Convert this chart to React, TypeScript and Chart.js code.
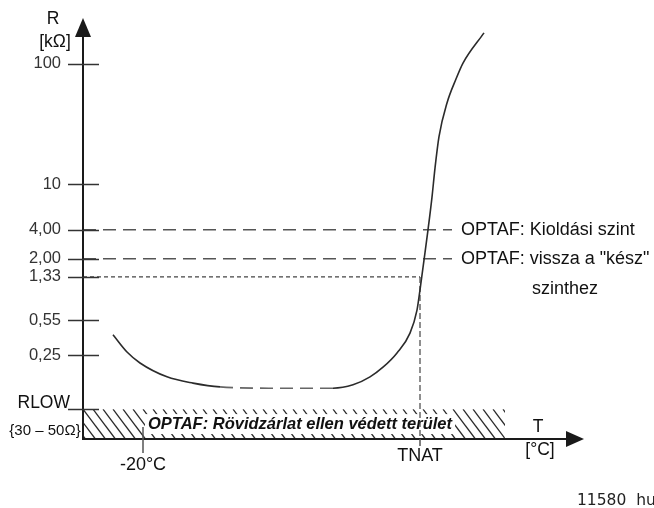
import React, { useEffect, useRef } from "react";
import { Chart, registerables } from "chart.js";

Chart.register(...registerables);

const FONT = "'Liberation Sans', Arial, Helvetica, sans-serif";

// Schematic position units: x = temperature position, y = resistance position
const X_MIN = 0;
const X_MAX = 100;
const Y_MIN = 0;
const Y_MAX = 100;

const Y_TICK_POS = [7.1, 20, 28.3, 38.6, 42.9, 49.8, 60.7, 89.3];
const Y_TICK_LABELS = ["", "0,25", "0,55", "1,33", "2,00", "4,00", "10", "100"];

const CURVE_X = [6.0, 8.8, 11.4, 16.8, 22.0, 27.4, 38.6, 50.0, 54.0, 57.4, 60.0, 62.8, 65.4, 66.8, 67.4, 68.2, 69.0, 69.8, 70.4, 71.2, 72.8, 74.6, 76.0, 80.2];
const CURVE_Y = [24.8, 20.7, 18.1, 14.8, 13.3, 12.4, 12.1, 12.1, 12.9, 14.8, 17.1, 20.5, 25.2, 30.7, 35.5, 42.6, 49.8, 57.6, 64.5, 72.0, 80.0, 85.7, 89.5, 96.7];
const DASHED_FROM = 5;
const DASHED_TO = 7;

const T_MINUS20 = 12;
const T_NAT = 67.4;
const R_TRIP = 49.8; // 4,00
const R_READY = 42.9; // 2,00
const R_NAT = 38.6; // 1,33
const R_LOW = 7.1;
const LEVEL_END = 73.8;
const HATCH_END = 84.4;
const SHORT_TEXT_X = 43.4;

const LABEL_TRIP = "OPTAF: Kioldási szint";
const LABEL_READY = "OPTAF: vissza a \"kész\"";
const LABEL_READY2 = "szinthez";
const LABEL_SHORT = "OPTAF: Rövidzárlat ellen védett terület";

const drawPlugin = {
  id: "schematic",
  beforeDatasetsDraw(chart: any) {
    const ctx = chart.ctx;
    const xs = chart.scales.x;
    const ys = chart.scales.y;
    const x0 = xs.getPixelForValue(0);
    const x1 = xs.getPixelForValue(HATCH_END);
    const yTop = ys.getPixelForValue(R_LOW);
    const yBot = ys.getPixelForValue(0);
    ctx.save();
    ctx.beginPath();
    ctx.rect(x0, yTop, x1 - x0, yBot - yTop);
    ctx.clip();
    ctx.strokeStyle = "#2a2a2a";
    ctx.lineWidth = 1.3;
    const h = yBot - yTop;
    for (let sx = x0 - 40; sx < x1 + 10; sx += 10) {
      ctx.beginPath();
      ctx.moveTo(sx, yTop);
      ctx.lineTo(sx + h * 0.75, yBot);
      ctx.stroke();
    }
    ctx.restore();

    // protected-area text with white background
    ctx.save();
    ctx.font = `italic bold 16.5px ${FONT}`;
    const tx = xs.getPixelForValue(SHORT_TEXT_X);
    const ty = (yTop + yBot) / 2;
    const w = ctx.measureText(LABEL_SHORT).width;
    ctx.fillStyle = "#ffffff";
    ctx.fillRect(tx - w / 2 - 3, ty - 10, w + 6, 20);
    ctx.fillStyle = "#111";
    ctx.textAlign = "center";
    ctx.textBaseline = "middle";
    ctx.fillText(LABEL_SHORT, tx, ty);
    ctx.restore();
  },
  afterDatasetsDraw(chart: any) {
    const ctx = chart.ctx;
    const xs = chart.scales.x;
    const ys = chart.scales.y;
    const ax = xs.getPixelForValue(X_MIN);
    const ay = ys.getPixelForValue(Y_MIN);
    const top = chart.chartArea.top;
    const right = chart.chartArea.right;
    ctx.save();
    ctx.strokeStyle = "#1a1a1a";
    ctx.fillStyle = "#1a1a1a";
    ctx.lineWidth = 2;
    // y axis
    ctx.beginPath();
    ctx.moveTo(ax, ay + 1);
    ctx.lineTo(ax, top + 12);
    ctx.stroke();
    ctx.beginPath();
    ctx.moveTo(ax, top - 1);
    ctx.lineTo(ax - 8, top + 18);
    ctx.lineTo(ax + 8, top + 18);
    ctx.closePath();
    ctx.fill();
    // x axis
    ctx.beginPath();
    ctx.moveTo(ax - 1, ay);
    ctx.lineTo(right - 12, ay);
    ctx.stroke();
    ctx.beginPath();
    ctx.moveTo(right + 1, ay);
    ctx.lineTo(right - 17, ay - 8);
    ctx.lineTo(right - 17, ay + 8);
    ctx.closePath();
    ctx.fill();

    // y tick marks crossing the axis
    ctx.strokeStyle = "#333";
    ctx.lineWidth = 1.5;
    Y_TICK_POS.forEach((v) => {
      const py = Math.round(ys.getPixelForValue(v)) + 0.5;
      ctx.beginPath();
      ctx.moveTo(ax - 15, py);
      ctx.lineTo(ax + 16, py);
      ctx.stroke();
    });

    // -20°C tick
    const px20 = xs.getPixelForValue(T_MINUS20);
    ctx.strokeStyle = "#555";
    ctx.beginPath();
    ctx.moveTo(px20, ay - 12);
    ctx.lineTo(px20, ay + 14);
    ctx.stroke();
    // TNAT tick below axis
    const pxN = xs.getPixelForValue(T_NAT);
    ctx.beginPath();
    ctx.moveTo(pxN, ay);
    ctx.lineTo(pxN, ay + 7);
    ctx.stroke();

    ctx.fillStyle = "#111";
    ctx.textAlign = "center";
    ctx.textBaseline = "middle";
    ctx.font = `18px ${FONT}`;
    ctx.fillText("-20°C", px20, ay + 26);
    ctx.fillText("TNAT", pxN, ay + 17);
    ctx.font = `17.5px ${FONT}`;
    ctx.fillText("T", right - 45, ay - 12);
    ctx.fillText("[°C]", right - 43, ay + 11);
    ctx.fillText("R", ax - 30, top);
    ctx.fillText("[kΩ]", ax - 28, top + 23);

    // RLOW label
    const pyLow = ys.getPixelForValue(R_LOW);
    ctx.textAlign = "right";
    ctx.fillText("RLOW", ax - 13, pyLow - 6);
    ctx.font = `15px ${FONT}`;
    ctx.textAlign = "center";
    ctx.fillText("{30 – 50Ω}", ax - 38, pyLow + 22);

    // level labels
    ctx.font = `18px ${FONT}`;
    ctx.textAlign = "left";
    const lx = xs.getPixelForValue(LEVEL_END) + 9;
    ctx.fillText(LABEL_TRIP, lx, ys.getPixelForValue(R_TRIP));
    ctx.fillText(LABEL_READY, lx, ys.getPixelForValue(R_READY));
    ctx.fillText(LABEL_READY2, lx + 71, ys.getPixelForValue(R_READY) + 30);

    // document id
    ctx.font = `15.5px 'DejaVu Sans', sans-serif`;
    ctx.fillStyle = "#222";
    ctx.fillText("11580  hu", right - 6, chart.height - 7);
    ctx.restore();
  },
};

export default function App() {
  const ref = useRef<HTMLCanvasElement>(null);
  useEffect(() => {
    if (!ref.current) return;
    const curve = CURVE_X.map((x, i) => ({ x, y: CURVE_Y[i] }));
    const chart = new Chart(ref.current, {
      type: "line",
      data: {
        datasets: [
          {
            label: "R(T)",
            data: curve,
            borderColor: "#2b2b2b",
            borderWidth: 1.6,
            pointRadius: 0,
            cubicInterpolationMode: "monotone",
            segment: {
              borderDash: (c: any) =>
                c.p0DataIndex >= DASHED_FROM && c.p1DataIndex <= DASHED_TO ? [13, 7] : undefined,
              borderColor: (c: any) =>
                c.p0DataIndex >= DASHED_FROM && c.p1DataIndex <= DASHED_TO ? "#666" : undefined,
            },
          } as any,
          {
            label: "trip",
            data: [
              { x: X_MIN, y: R_TRIP },
              { x: LEVEL_END, y: R_TRIP },
            ],
            borderColor: "#555",
            borderWidth: 1.5,
            borderDash: [13, 7],
            pointRadius: 0,
          },
          {
            label: "ready",
            data: [
              { x: X_MIN, y: R_READY },
              { x: LEVEL_END, y: R_READY },
            ],
            borderColor: "#555",
            borderWidth: 1.5,
            borderDash: [13, 7],
            pointRadius: 0,
          },
          {
            label: "nat",
            data: [
              { x: X_MIN, y: R_NAT },
              { x: T_NAT, y: R_NAT },
            ],
            borderColor: "#444",
            borderWidth: 1.2,
            borderDash: [4, 3],
            pointRadius: 0,
          },
          {
            label: "tnat",
            data: [
              { x: T_NAT, y: R_NAT },
              { x: T_NAT, y: Y_MIN },
            ],
            borderColor: "#444",
            borderWidth: 1.2,
            borderDash: [6, 3],
            pointRadius: 0,
          },
        ],
      },
      options: {
        animation: false,
        responsive: false,
        events: [],
        layout: { padding: { left: 0, right: 71, top: 19, bottom: 69 } },
        plugins: { legend: { display: false }, tooltip: { enabled: false } },
        scales: {
          x: { type: "linear", min: X_MIN, max: X_MAX, display: false },
          y: {
            type: "linear",
            min: Y_MIN,
            max: Y_MAX,
            position: "left",
            border: { display: false },
            grid: { display: false, drawTicks: false },
            afterFit: (s: any) => {
              s.width = 83;
              s.paddingTop = 0;
              s.paddingBottom = 0;
            },
            afterBuildTicks: (s: any) => {
              s.ticks = Y_TICK_POS.map((v) => ({ value: v }));
            },
            ticks: {
              autoSkip: false,
              padding: 22,
              color: "#333",
              font: { family: FONT, size: 16.5 },
              callback: (_v: any, i: number) => Y_TICK_LABELS[i],
            },
          },
        },
      },
      plugins: [drawPlugin],
    });
    return () => chart.destroy();
  }, []);
  return (
    <div style={{ position: "fixed", left: 0, top: 0, width: 654, height: 508, background: "#fff" }}>
      <canvas ref={ref} width={654} height={508} />
    </div>
  );
}
